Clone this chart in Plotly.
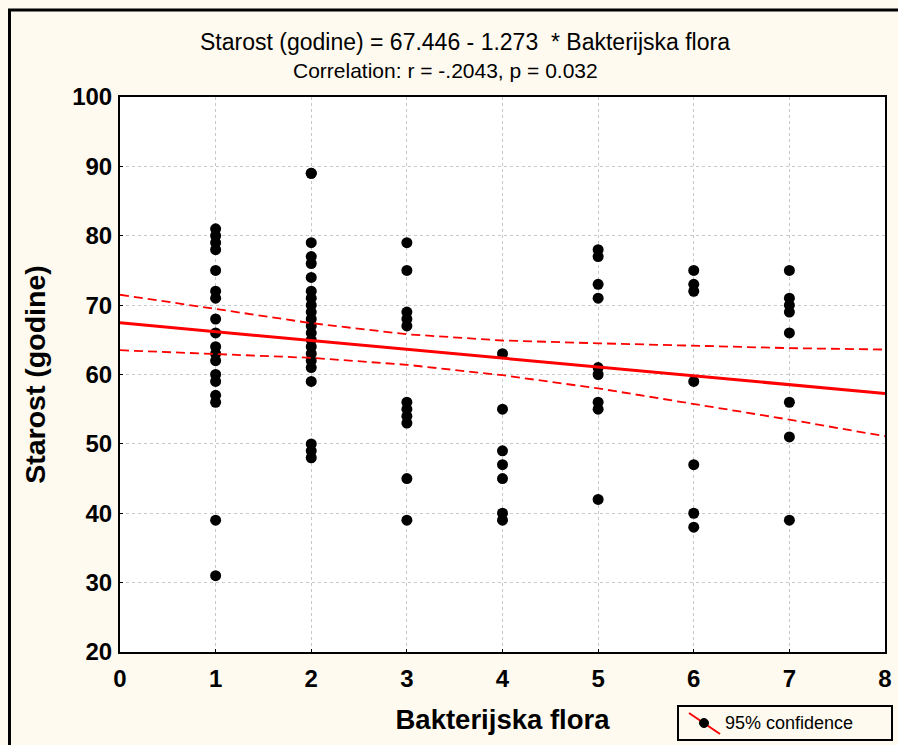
import plotly.graph_objects as go

# Observations: bacterial flora category (x) and age in years (y)
flora_1 = [81, 80, 79, 78, 75, 72, 71, 68, 66, 64, 63, 62, 60, 59, 57, 56, 39, 31]
flora_2 = [89, 89, 79, 77, 76, 74, 72, 71, 70, 69, 68, 67, 66, 65, 64, 63, 62, 61, 59, 50, 49, 48]
flora_3 = [79, 75, 69, 68, 67, 56, 55, 54, 53, 45, 39]
flora_4 = [63, 55, 49, 47, 45, 40, 39]
flora_5 = [78, 77, 73, 71, 61, 60, 56, 55, 42]
flora_6 = [75, 73, 72, 59, 47, 40, 38]
flora_7 = [75, 71, 70, 69, 66, 56, 51, 39]

# Regression coefficients as reported
intercept = 67.446
slope = -1.273
r_value = "-.2043"
p_value = "0.032"

# 95% confidence band of the fitted line, at x = 0..8
band_x = [0, 1, 2, 3, 4, 5, 6, 7, 8]
band_upper = [71.5, 69.5, 67.4, 65.8, 64.9, 64.5, 64.1, 63.8, 63.6]
band_lower = [63.5, 63.0, 62.4, 61.4, 59.9, 58.0, 55.8, 53.5, 51.1]

x_ticks = [0, 1, 2, 3, 4, 5, 6, 7, 8]
y_ticks = [20, 30, 40, 50, 60, 70, 80, 90, 100]

groups = [flora_1, flora_2, flora_3, flora_4, flora_5, flora_6, flora_7]
x_vals = [i + 1 for i, g in enumerate(groups) for _ in g]
y_vals = [v for g in groups for v in g]

fit_x = [0, 8]
fit_y = [intercept + slope * v for v in fit_x]

fig = go.Figure()
fig.add_trace(go.Scatter(
    x=x_vals, y=y_vals, mode="markers",
    marker=dict(color="black", size=11, symbol="circle"),
    showlegend=False,
))
fig.add_trace(go.Scatter(
    x=band_x, y=band_upper, mode="lines",
    line=dict(color="red", width=1.8, dash="9px,5px"), showlegend=False,
))
fig.add_trace(go.Scatter(
    x=band_x, y=band_lower, mode="lines",
    line=dict(color="red", width=1.8, dash="9px,5px"), showlegend=False,
))
fig.add_trace(go.Scatter(
    x=fit_x, y=fit_y, mode="lines",
    line=dict(color="red", width=3), showlegend=False,
))

bg = "rgb(255,250,239)"
title_line1 = "Starost (godine) = 67.446 - 1.273  * Bakterijska flora"
title_line2 = f"Correlation: r = {r_value}, p = {p_value}"

PLOT_L, PLOT_R, PLOT_T, PLOT_B = 120, 885, 97, 652


def px_x(v):
    return (v - PLOT_L) / float(PLOT_R - PLOT_L)


def px_y(v):
    return (PLOT_B - v) / float(PLOT_B - PLOT_T)


shapes = [
    # outer frame
    dict(type="line", xref="paper", yref="paper",
         x0=px_x(9.5), x1=px_x(9.5), y0=px_y(10), y1=px_y(800),
         line=dict(color="black", width=3)),
    dict(type="line", xref="paper", yref="paper",
         x0=px_x(8), x1=px_x(960), y0=px_y(10), y1=px_y(10),
         line=dict(color="black", width=3)),
    # legend box with its symbol: diagonal line through a dot
    dict(type="rect", xref="paper", yref="paper",
         x0=px_x(678), x1=px_x(892), y0=px_y(706), y1=px_y(740),
         line=dict(color="black", width=2), fillcolor=bg),
    dict(type="line", xref="paper", yref="paper",
         x0=px_x(689), x1=px_x(720), y0=px_y(713), y1=px_y(734),
         line=dict(color="red", width=2)),
    dict(type="circle", xref="paper", yref="paper",
         x0=px_x(699.5), x1=px_x(708.5), y0=px_y(718.5), y1=px_y(727.5),
         line=dict(color="black", width=1), fillcolor="black"),
]

annotations = [
    dict(xref="paper", yref="paper", x=px_x(465), y=px_y(42),
         xanchor="center", yanchor="middle", showarrow=False,
         text=title_line1, font=dict(size=23, color="black")),
    dict(xref="paper", yref="paper", x=px_x(445), y=px_y(70),
         xanchor="center", yanchor="middle", showarrow=False,
         text=title_line2, font=dict(size=21, color="black")),
    dict(xref="paper", yref="paper", x=px_x(723), y=px_y(723),
         xanchor="left", yanchor="middle", showarrow=False,
         text="95% confidence", font=dict(size=18, color="black")),
]

fig.update_layout(
    width=898, height=745,
    paper_bgcolor=bg, plot_bgcolor="white",
    margin=dict(l=PLOT_L, r=898 - PLOT_R, t=PLOT_T, b=745 - PLOT_B, autoexpand=False),
    font=dict(family="Liberation Sans, Arial", color="black"),
    shapes=shapes,
    annotations=annotations,
    showlegend=False,
)

axis_common = dict(
    showline=True, linecolor="black", linewidth=2, mirror=True,
    showgrid=True, gridcolor="rgb(200,200,200)", griddash="dot", gridwidth=1,
    zeroline=False, ticks="inside", ticklen=3, tickcolor="black",
    automargin=False,
    tickfont=dict(size=24, family="Liberation Sans, Arial", color="black", weight="bold"),
)

fig.update_xaxes(
    range=[0, 8], tickvals=x_ticks, ticktext=[str(v) for v in x_ticks],
    ticklabelstandoff=4,
    title=dict(text="<b>Bakterijska flora</b>", standoff=19,
               font=dict(size=27.5, color="black")),
    **axis_common,
)
fig.update_yaxes(
    range=[20, 100], tickvals=y_ticks, ticktext=[str(v) for v in y_ticks],
    ticklabelstandoff=1,
    title=dict(text="<b>Starost (godine)</b>", standoff=18,
               font=dict(size=28.5, color="black")),
    **axis_common,
)

fig.write_html("out.html")
